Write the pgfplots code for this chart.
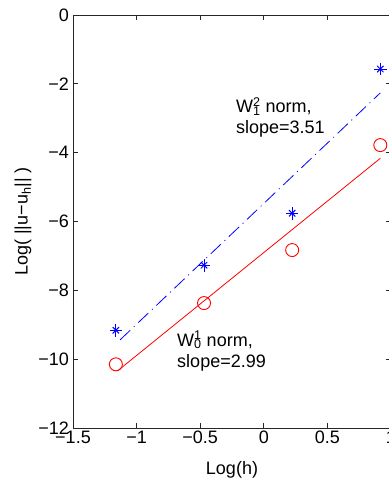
\documentclass[border=0pt]{standalone}
\usepackage{pgfplots}
\pgfplotsset{compat=1.18}
\usepackage{fontspec}
\setmainfont{Liberation Sans}
\pgfplotstableread{
x y
-1.163 -9.16
-0.470 -7.27
0.223 -5.76
0.916 -1.57
}\bluedata
\pgfplotstableread{
x y
-1.163 -10.15
-0.470 -8.37
0.223 -6.83
0.916 -3.78
}\reddata
\begin{document}
\begin{tikzpicture}
\begin{axis}[
  scale only axis, width=318pt, height=413pt,
  xmin=-1.5, xmax=1, ymin=-12, ymax=0,
  xtick={-1.5,-1,-0.5,0,0.5,1},
  xticklabels={−1.5,−1,−0.5,0,0.5,1},
  ytick={-12,-10,-8,-6,-4,-2,0},
  yticklabels={−12,−10,−8,−6,−4,−2,0},
  tick align=inside, major tick length=5pt,
  tick style={line width=0.7pt, black!85},
  axis line style={line width=0.8pt, black!85},
  font=\fontsize{18}{21}\selectfont,
  xticklabel style={inner sep=2.5pt},
  yticklabel style={inner sep=4pt},
  xlabel={Log(h)},
  ylabel={Log( ||u−u\textsubscript{h}|| )},
  xlabel style={at={(axis description cs:0.5,-0.1017)}, anchor=center},
  ylabel style={at={(axis description cs:-0.157,0.5)}, anchor=center},
  clip=false,
]
\addplot[blue, line width=0.8pt, dash pattern=on 14pt off 5pt on 1pt off 5pt] coordinates {(-1.13,-9.44) (0.916,-2.263)};
\addplot[red, line width=0.8pt] coordinates {(-1.15,-10.34) (0.916,-4.164)};
\addplot[only marks, blue, mark=+, mark size=6.3pt, mark options={line width=1pt}] table[x=x,y=y] {\bluedata};
\addplot[only marks, blue, mark=x, mark size=4.5pt, mark options={line width=1pt}] table[x=x,y=y] {\bluedata};
\addplot[only marks, red, mark=o, mark size=6.5pt, mark options={line width=0.9pt}] table[x=x,y=y] {\reddata};
\node[anchor=west, align=left, inner sep=0pt, font=\fontsize{18}{21}\selectfont] at (axis cs:-0.219,-2.98)
  {W\rlap{\textsuperscript{2}}\textsubscript{1} norm,\\slope=3.51};
\node[anchor=west, align=left, inner sep=0pt, font=\fontsize{18}{21}\selectfont] at (axis cs:-0.682,-9.76)
  {W\rlap{\textsuperscript{1}}\textsubscript{0} norm,\\slope=2.99};
\coordinate (bl) at (axis cs:-1.5,-12);
\coordinate (tr) at (axis cs:0.984,0);
\end{axis}
\pgfresetboundingbox
\path[use as bounding box] ([xshift=-73pt,yshift=-54pt]bl) rectangle ([yshift=15pt]tr);
\end{tikzpicture}
\end{document}
